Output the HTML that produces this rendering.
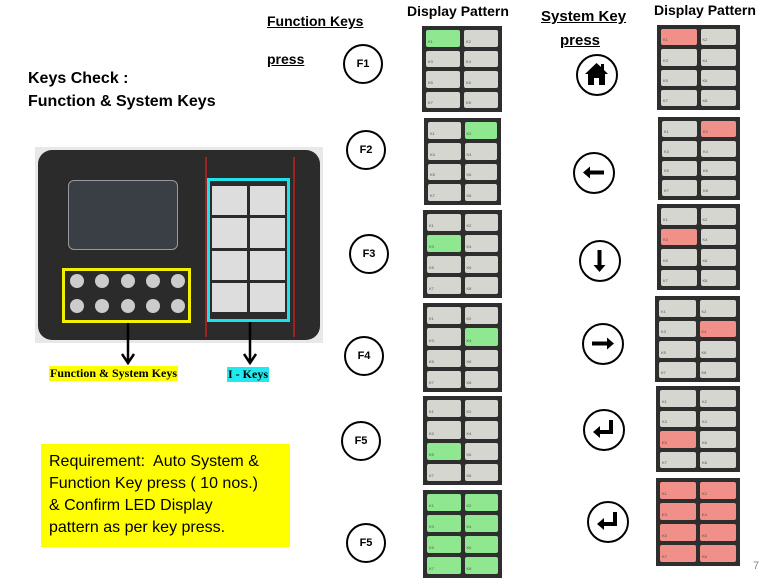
<!DOCTYPE html>
<html><head><style>
*{margin:0;padding:0;box-sizing:border-box}
body{width:765px;height:587px;background:#fff;position:relative;overflow:hidden;font-family:"Liberation Sans",sans-serif}
.a{position:absolute}
.t{position:absolute;font-weight:bold;font-size:14px;white-space:nowrap}
.u{text-decoration:underline}
.p{position:absolute;background:#2e2e2e;padding:4px;display:grid;grid-template-columns:1fr 1fr;grid-template-rows:repeat(4,minmax(0,1fr));gap:4px}
.p div{background:#d6d6d0;border-radius:2px;font-size:4px;line-height:4px;color:#555;overflow:hidden;display:flex;align-items:flex-end;padding:0 0 3px 2px;min-height:0}
.p .g{background:#8fe88f}.p .r{background:#f09088}
.c{position:absolute;width:40px;height:40px;border:2px solid #000;border-radius:50%;font-weight:bold;font-size:11px;display:flex;align-items:center;justify-content:center}
.s{position:absolute;width:42px;height:42px;border:2.5px solid #000;border-radius:50%}
.s svg{position:absolute;left:0;top:0}
</style></head><body>
<div class="t u" style="left:267px;top:13px">Function Keys</div>
<div class="t u" style="left:267px;top:51px">press</div>
<div class="t" style="left:407px;top:3px">Display Pattern</div>
<div class="t u" style="left:541px;top:8px;font-size:15px">System Key</div>
<div class="t u" style="left:560px;top:32px;font-size:15px">press</div>
<div class="t" style="left:654px;top:2px">Display Pattern</div>
<div class="t" style="left:28px;top:67px;font-size:16px;line-height:23px">Keys Check :<br>Function &amp; System Keys</div>

<!-- controller -->
<div class="a" style="left:35px;top:147px;width:288px;height:196px;background:#e8e8e8"></div>
<div class="a" style="left:38px;top:150px;width:282px;height:190px;background:#2b2b2b;border-radius:14px"></div>
<div class="a" style="left:68px;top:180px;width:110px;height:70px;background:#3a3f45;border:1px solid #999;border-radius:6px"></div>
<div class="a" style="left:205px;top:157px;width:2px;height:180px;background:#a02020"></div>
<div class="a" style="left:293px;top:157px;width:2px;height:180px;background:#a02020"></div>
<div class="a" style="left:207px;top:178px;width:83px;height:144px;border:3px solid #22e0e8"></div>
<div class="a" style="left:212px;top:186px;width:73px;height:126px;display:grid;grid-template-columns:1fr 1fr;grid-template-rows:repeat(4,1fr);gap:3px">
<div style="background:#ddd"></div><div style="background:#ddd"></div><div style="background:#ddd"></div><div style="background:#ddd"></div><div style="background:#ddd"></div><div style="background:#ddd"></div><div style="background:#ddd"></div><div style="background:#ddd"></div></div>
<div class="a" style="left:62px;top:268px;width:129px;height:55px;border:3px solid #f0f000"></div>
<div class="a" style="left:70px;top:274px;width:115px;display:flex;justify-content:space-between"><i style="width:14px;height:14px;border-radius:50%;background:#ccc"></i><i style="width:14px;height:14px;border-radius:50%;background:#ccc"></i><i style="width:14px;height:14px;border-radius:50%;background:#ccc"></i><i style="width:14px;height:14px;border-radius:50%;background:#ccc"></i><i style="width:14px;height:14px;border-radius:50%;background:#ccc"></i></div>
<div class="a" style="left:70px;top:299px;width:115px;display:flex;justify-content:space-between"><i style="width:14px;height:14px;border-radius:50%;background:#ccc"></i><i style="width:14px;height:14px;border-radius:50%;background:#ccc"></i><i style="width:14px;height:14px;border-radius:50%;background:#ccc"></i><i style="width:14px;height:14px;border-radius:50%;background:#ccc"></i><i style="width:14px;height:14px;border-radius:50%;background:#ccc"></i></div>
<svg class="a" style="left:0;top:0" width="765" height="587"><g stroke="#000" stroke-width="2.5" fill="none"><path d="M128 323V362M122 354l6 9 6-9M250 322V362M244 354l6 9 6-9"/></g></svg>
<div class="a" style="left:49px;top:366px;background:#ffff00;font-family:'Liberation Serif',serif;font-weight:bold;font-size:12px;padding:0 1px">Function &amp; System Keys</div>
<div class="a" style="left:227px;top:367px;background:#22e8f0;font-family:'Liberation Serif',serif;font-weight:bold;font-size:12px;padding:0 1px">I - Keys</div>

<div class="a" style="left:41px;top:444px;width:249px;height:103px;background:#ffff00;font-size:16px;line-height:22px;padding:7px 8px;white-space:nowrap">Requirement:&nbsp; Auto System &amp;<br>Function Key press ( 10 nos.)<br>&amp; Confirm LED Display<br>pattern as per key press.</div>

<!-- function circles -->
<div class="c" style="left:343px;top:44px">F1</div>
<div class="c" style="left:346px;top:130px">F2</div>
<div class="c" style="left:349px;top:234px">F3</div>
<div class="c" style="left:344px;top:336px">F4</div>
<div class="c" style="left:341px;top:421px">F5</div>
<div class="c" style="left:346px;top:523px">F5</div>
<!-- system circles -->
<div class="s" style="left:576px;top:54px"><svg width="37" height="37"><path d="M18.5 7L7 18h3v11h6v-7h5v7h6V18h3l-4-4V8h-3v3z" fill="#000"/></svg></div>
<div class="s" style="left:573px;top:152px"><svg width="37" height="37"><path d="M10 18.5h19" stroke="#000" stroke-width="4"/><path d="M8 18.5l7-6v12z" fill="#000"/></svg></div>
<div class="s" style="left:579px;top:240px"><svg width="37" height="37"><path d="M18.5 8v19" stroke="#000" stroke-width="4"/><path d="M18.5 30l-6-7h12z" fill="#000"/></svg></div>
<div class="s" style="left:582px;top:323px"><svg width="37" height="37"><path d="M8 18.5h19" stroke="#000" stroke-width="4"/><path d="M30 18.5l-7-6v12z" fill="#000"/></svg></div>
<div class="s" style="left:583px;top:409px"><svg width="37" height="37"><path d="M26 9v12H13" stroke="#000" stroke-width="4" fill="none"/><path d="M8 21l7-6v12z" fill="#000"/></svg></div>
<div class="s" style="left:587px;top:501px"><svg width="37" height="37"><path d="M26 9v12H13" stroke="#000" stroke-width="4" fill="none"/><path d="M8 21l7-6v12z" fill="#000"/></svg></div>

<!-- green panels -->
<div class="p" style="left:422px;top:26px;width:80px;height:86px"><div class="g">K1</div><div>K2</div><div>K3</div><div>K4</div><div>K5</div><div>K6</div><div>K7</div><div>K8</div></div>
<div class="p" style="left:424px;top:118px;width:77px;height:87px"><div>K1</div><div class="g">K2</div><div>K3</div><div>K4</div><div>K5</div><div>K6</div><div>K7</div><div>K8</div></div>
<div class="p" style="left:423px;top:210px;width:79px;height:88px"><div>K1</div><div>K2</div><div class="g">K3</div><div>K4</div><div>K5</div><div>K6</div><div>K7</div><div>K8</div></div>
<div class="p" style="left:423px;top:303px;width:79px;height:89px"><div>K1</div><div>K2</div><div>K3</div><div class="g">K4</div><div>K5</div><div>K6</div><div>K7</div><div>K8</div></div>
<div class="p" style="left:423px;top:396px;width:79px;height:89px"><div>K1</div><div>K2</div><div>K3</div><div>K4</div><div class="g">K5</div><div>K6</div><div>K7</div><div>K8</div></div>
<div class="p" style="left:423px;top:490px;width:79px;height:88px"><div class="g">K1</div><div class="g">K2</div><div class="g">K3</div><div class="g">K4</div><div class="g">K5</div><div class="g">K6</div><div class="g">K7</div><div class="g">K8</div></div>
<!-- red panels -->
<div class="p" style="left:657px;top:25px;width:83px;height:85px"><div class="r">K1</div><div>K2</div><div>K3</div><div>K4</div><div>K5</div><div>K6</div><div>K7</div><div>K8</div></div>
<div class="p" style="left:658px;top:117px;width:82px;height:83px"><div>K1</div><div class="r">K2</div><div>K3</div><div>K4</div><div>K5</div><div>K6</div><div>K7</div><div>K8</div></div>
<div class="p" style="left:657px;top:204px;width:83px;height:86px"><div>K1</div><div>K2</div><div class="r">K3</div><div>K4</div><div>K5</div><div>K6</div><div>K7</div><div>K8</div></div>
<div class="p" style="left:655px;top:296px;width:85px;height:86px"><div>K1</div><div>K2</div><div>K3</div><div class="r">K4</div><div>K5</div><div>K6</div><div>K7</div><div>K8</div></div>
<div class="p" style="left:656px;top:386px;width:84px;height:86px"><div>K1</div><div>K2</div><div>K3</div><div>K4</div><div class="r">K5</div><div>K6</div><div>K7</div><div>K8</div></div>
<div class="p" style="left:656px;top:478px;width:84px;height:88px"><div class="r">K1</div><div class="r">K2</div><div class="r">K3</div><div class="r">K4</div><div class="r">K5</div><div class="r">K6</div><div class="r">K7</div><div class="r">K8</div></div>

<div class="a" style="left:753px;top:560px;font-size:11px;color:#888">7</div>
</body></html>
